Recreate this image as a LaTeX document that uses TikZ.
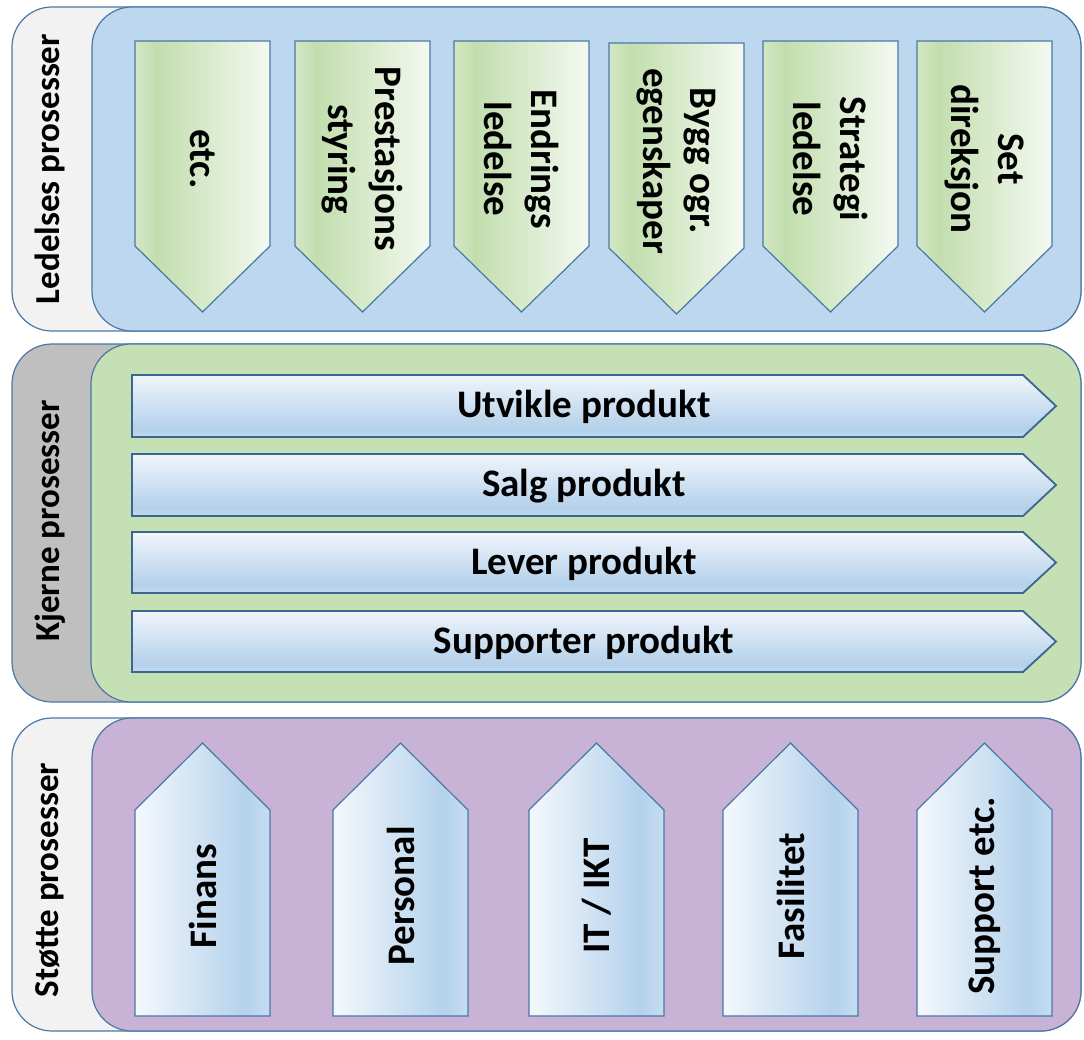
\documentclass[tikz,border=0pt]{standalone}
\usepackage{fontspec}
\setmainfont{Carlito}
\definecolor{edge}{HTML}{4A78A6}
\definecolor{edgedark}{HTML}{3A6690}
\definecolor{lblLight}{HTML}{F2F2F2}
\definecolor{lblGray}{HTML}{BFBFBF}
\definecolor{bandBlue}{HTML}{BDD7EE}
\definecolor{bandGreen}{HTML}{C5E0B4}
\definecolor{bandPurple}{HTML}{C8B2D6}
\definecolor{gL}{HTML}{D2E7C4}
\definecolor{gD}{HTML}{C2DEAE}
\definecolor{gR}{HTML}{F4F9F1}
\definecolor{bL}{HTML}{F4F8FC}
\definecolor{bD}{HTML}{B4D2EC}
\definecolor{bR}{HTML}{C6DDF1}
\definecolor{aT}{HTML}{F0F5FB}
\definecolor{aD}{HTML}{B3D0EA}
\definecolor{aB}{HTML}{C2DAF0}
\pgfdeclarehorizontalshading{greenpent}{100bp}{color(0bp)=(gL); color(25bp)=(gL); color(33bp)=(gD); color(75bp)=(gR); color(100bp)=(gR)}
\pgfdeclarehorizontalshading{bluepent}{100bp}{color(0bp)=(bL); color(25bp)=(bL); color(66bp)=(bD); color(75bp)=(bR); color(100bp)=(bR)}
\pgfdeclareverticalshading{bluearrow}{100bp}{color(0bp)=(aB); color(25bp)=(aB); color(31bp)=(aD); color(75bp)=(aT); color(100bp)=(aT)}
\begin{document}
\begin{tikzpicture}[x=1pt,y=-1pt,
  bandline/.style={draw=edge, line width=1.2pt, rounded corners=40pt},
  pentline/.style={draw=edge, line width=1.2pt, line join=miter},
  arrowline/.style={draw=edgedark, line width=1.8pt, line join=miter},
  sidelabel/.style={font=\fontsize{35}{42}\selectfont\bfseries, rotate=90, inner sep=0pt},
  ptext/.style={font=\fontsize{39}{47}\selectfont\bfseries, align=center, inner sep=0pt},
  atext/.style={font=\fontsize{39}{47}\selectfont\bfseries, inner sep=0pt}]
\useasboundingbox (0,0) rectangle (1084,1040);
\fill[white] (0,0) rectangle (1084,1040);

% ---------- Band 1: Ledelses prosesser ----------
\draw[bandline, fill=lblLight] (12,7) rectangle (1081,331);
\draw[bandline, fill=bandBlue] (92,7) rectangle (1081,331);
\node[sidelabel] (lab1) at (50,169) {Ledelses prosesser};

\newcommand\downpent[5]{%
  \path[pentline, shading=greenpent] (#1,#2) -- (#1+135,#2) -- (#1+135,#2+205) -- (#1+67.5,#2+271) -- (#1,#2+205) -- cycle;
  \node[ptext, rotate=-90] (#3) at (#1+67.5,#4) {#5};}
\downpent{135}{41}{d1}{159}{etc.}
\downpent{295}{41}{d2}{159}{Prestasjons\\styring}
\downpent{454}{41}{d3}{159}{Endrings\\ledelse}
\downpent{609}{43}{d4}{161}{Bygg ogr.\\egenskaper}
\downpent{763}{41}{d5}{159}{Strategi\\ledelse}
\downpent{917}{41}{d6}{159}{Set\\direksjon}

% ---------- Band 2: Kjerne prosesser ----------
\draw[bandline, fill=lblGray] (12,344) rectangle (1081,702);
\draw[bandline, fill=bandGreen] (91,344) rectangle (1081,702);
\node[sidelabel] (lab2) at (50,521) {Kjerne prosesser};

\newcommand\rarrow[4]{%
  \path[arrowline, shading=bluearrow] (132,#1) -- (1023,#1) -- (1056,#1/2+#2/2) -- (1023,#2) -- (132,#2) -- cycle;
  \node[atext] (#3) at (584,#1/2+#2/2+1) {#4};}
\rarrow{375}{437}{a1}{Utvikle produkt}
\rarrow{454}{516}{a2}{Salg produkt}
\rarrow{532}{593}{a3}{Lever produkt}
\rarrow{611}{672}{a4}{Supporter produkt}

% ---------- Band 3: Støtte prosesser ----------
\draw[bandline, fill=lblLight] (12,718) rectangle (1081,1031);
\draw[bandline, fill=bandPurple] (92,718) rectangle (1081,1031);
\node[sidelabel] (lab3) at (50,880) {Støtte prosesser};

\newcommand\uppent[3]{%
  \path[pentline, shading=bluepent] (#1+67.5,743) -- (#1+135,810) -- (#1+135,1016) -- (#1,1016) -- (#1,810) -- cycle;
  \node[ptext, rotate=90] (#2) at (#1+67.5,896) {#3};}
\uppent{135}{u1}{Finans}
\uppent{333}{u2}{Personal}
\uppent{529}{u3}{IT / IKT}
\uppent{723}{u4}{Fasilitet}
\uppent{917}{u5}{Support etc.}
\end{tikzpicture}
\end{document}
